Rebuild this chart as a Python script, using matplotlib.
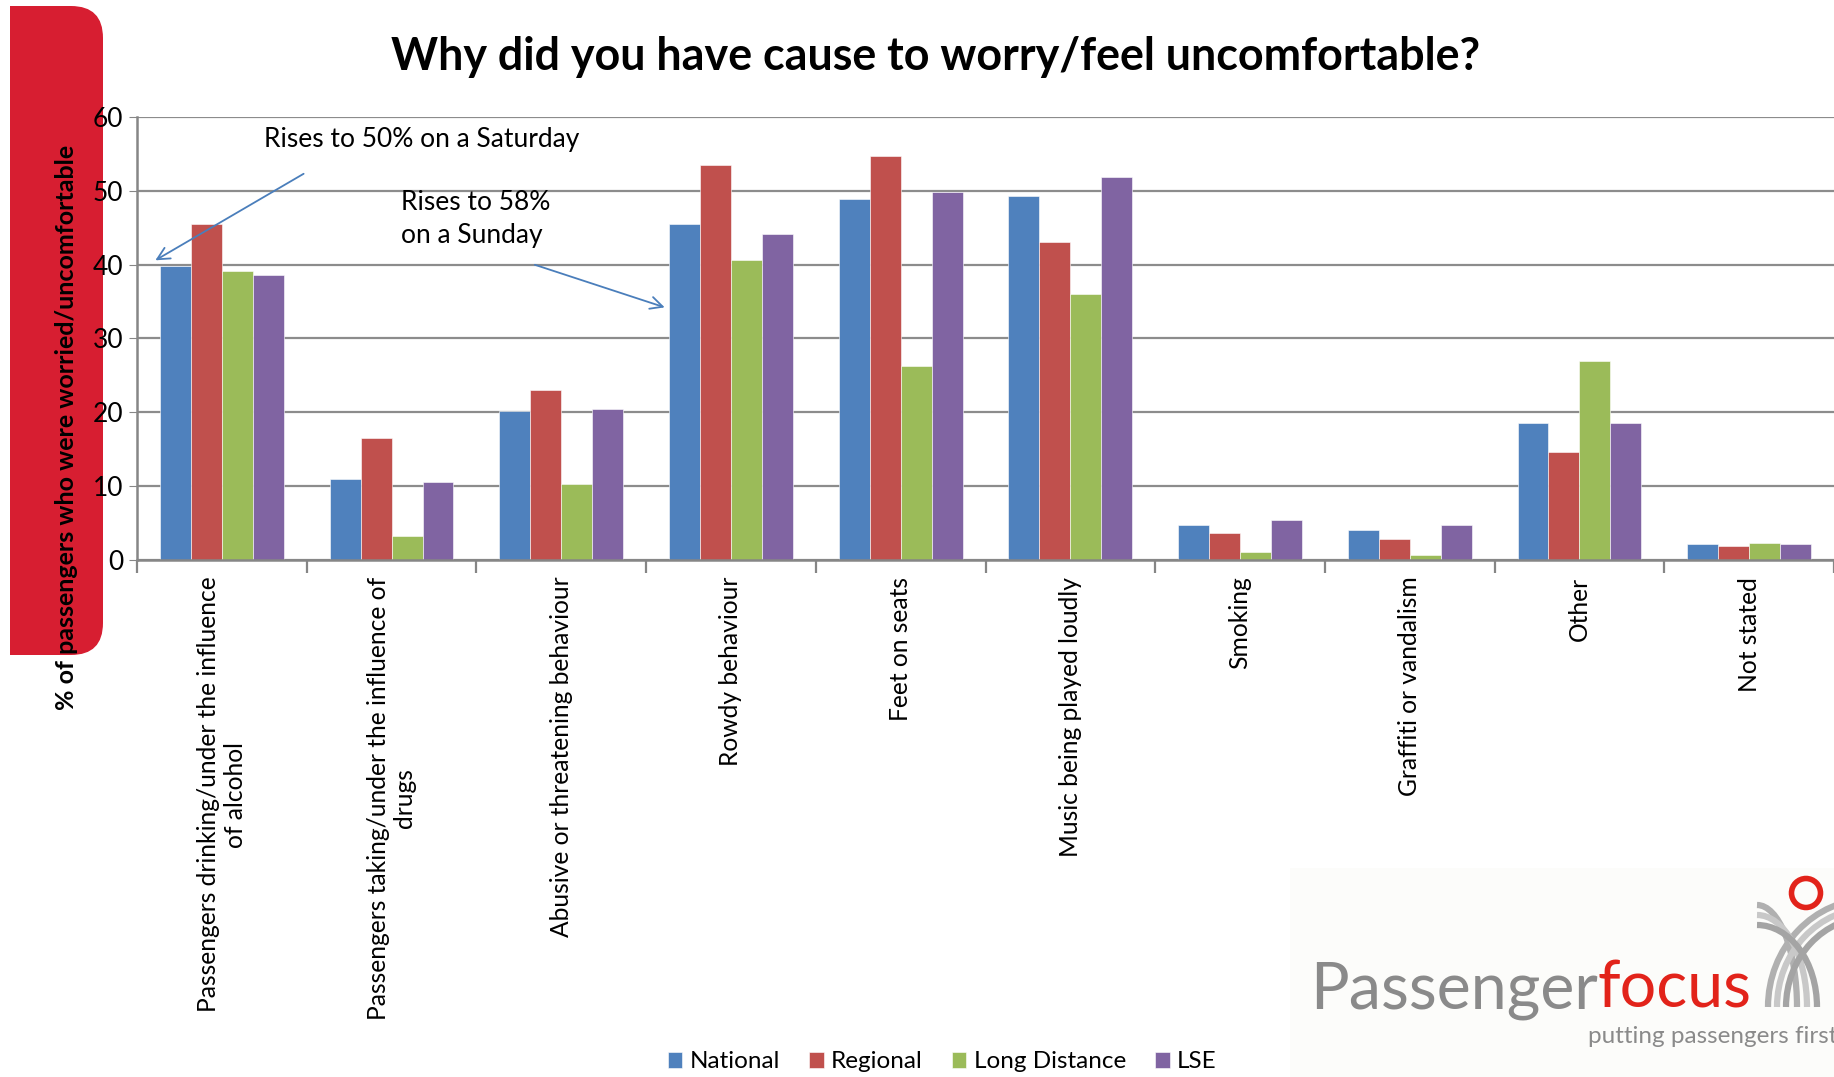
import numpy as np
import matplotlib
matplotlib.use("Agg")
import matplotlib.pyplot as plt
from matplotlib.patches import FancyBboxPatch, Rectangle, Circle, Arc

plt.rcParams["font.family"] = ["Lato", "DejaVu Sans"]

categories = [
    "Passengers drinking/under the influence\nof alcohol",
    "Passengers taking/under the influence of\ndrugs",
    "Abusive or threatening behaviour",
    "Rowdy behaviour",
    "Feet on seats",
    "Music being played loudly",
    "Smoking",
    "Graffiti or vandalism",
    "Other",
    "Not stated",
]
national = [39.8, 11.0, 20.2, 45.5, 48.9, 49.3, 4.8, 4.1, 18.5, 2.2]
regional = [45.5, 16.5, 23.0, 53.5, 54.7, 43.1, 3.7, 2.8, 14.6, 1.9]
long_distance = [39.1, 3.3, 10.3, 40.6, 26.3, 36.0, 1.1, 0.7, 26.9, 2.3]
lse = [38.6, 10.6, 20.5, 44.2, 49.9, 51.9, 5.4, 4.7, 18.6, 2.2]
series_names = ["National", "Regional", "Long Distance", "LSE"]
colors = ["#4F81BD", "#C0504D", "#9BBB59", "#8064A2"]
yticks = [0, 10, 20, 30, 40, 50, 60]

W, H = 1834, 1077
fig = plt.figure(figsize=(W / 100, H / 100), dpi=100)

# background layer in pixel coordinates: red tab + logo
bg = fig.add_axes([0, 0, 1, 1], zorder=0)
bg.set_xlim(0, W)
bg.set_ylim(H, 0)
bg.axis("off")
red = "#D71E31"
bg.add_patch(FancyBboxPatch((10, 6), 93, 649, boxstyle="round,pad=0,rounding_size=32",
                            fc=red, ec="none"))
bg.add_patch(Rectangle((10, 6), 40, 649, fc=red, ec="none"))

# logo
bg.add_patch(Rectangle((1290, 868), 560, 210, fc="#fcfcfa", ec="none"))
logo_red = "#e2231a"
t = bg.text(1310, 1008, "Passenger", fontsize=46.5, color="#8a8a8a",
            va="baseline", ha="left")
bb = t.get_window_extent(fig.canvas.get_renderer())
bg.text(bb.x1, 1008, "focus", fontsize=46.5, color=logo_red, va="baseline", ha="left")
bg.text(1588, 1043, "putting passengers first", fontsize=17.5, color="#8a8a8a",
        va="baseline", ha="left")
bg.add_patch(Circle((1806, 893), 14.5, fc="none", ec=logo_red, lw=4))
for k, c in enumerate(["#b0b0b0", "#c8c8c8", "#a4a4a4"]):
    bg.add_patch(Arc((1870, 1007), 2 * (102 - 9 * k), 2 * (108 - 9 * k),
                     theta1=180, theta2=270, color=c, lw=4.5))
    bg.add_patch(Arc((1757, 1007), 2 * (40 + 10 * k), 2 * (102 - 10 * k),
                     theta1=270, theta2=360, color=c, lw=4.5))

# main chart
ax = fig.add_axes([137 / W, 1 - 560 / H, (W - 137) / W, 443 / H], zorder=1)
ax.patch.set_alpha(0)
x = np.arange(len(categories))
bw = 0.1825
for i, (vals, name, col) in enumerate(zip([national, regional, long_distance, lse],
                                          series_names, colors)):
    ax.bar(x + (i - 1.5) * bw, vals, width=bw, color=col, label=name,
           edgecolor="white", linewidth=0.4, zorder=2)

ax.set_xlim(-0.5, len(categories) - 0.5)
ax.set_ylim(0, 60)
ax.set_yticks(yticks)
ax.tick_params(axis="y", labelsize=19, length=6, color="#868686", pad=4)
ax.yaxis.grid(True, color="#8c8c8c", linewidth=1.6, zorder=0)
ax.set_axisbelow(True)
ax.set_xticks(x, categories, rotation=90, ha="center", va="top", multialignment="center")
ax.tick_params(axis="x", length=0, labelsize=17.7, pad=12)
ax.set_xticks(np.arange(-0.5, len(categories)), minor=True)
ax.tick_params(axis="x", which="minor", length=9, width=1.6, color="#868686", direction="out")
for s in ["top", "right"]:
    ax.spines[s].set_visible(False)
for s in ["left", "bottom"]:
    ax.spines[s].set_color("#868686")
    ax.spines[s].set_linewidth(1.8)

arrow = dict(arrowstyle="->", color="#4a7ebb", lw=1.3, mutation_scale=22)
ax.annotate("", xy=(-0.406, 40.4), xytext=(0.496, 52.5), arrowprops=arrow)
ax.annotate("", xy=(2.625, 34.1), xytext=(1.829, 40.1), arrowprops=arrow)
ax.text(0.249, 57.0, "Rises to 50% on a Saturday", fontsize=19, va="center", ha="left")
ax.text(1.057, 46.2, "Rises to 58%\non a Sunday", fontsize=19, va="center", ha="left",
        linespacing=1.4)

fig.text(936 / W, 1 - 57 / H, "Why did you have cause to worry/feel uncomfortable?",
         fontsize=32.3, fontweight="bold", ha="center", va="center")
fig.text(67 / W, 1 - 427 / H, "% of passengers who were worried/uncomfortable",
         fontsize=18, fontweight="bold", rotation=90, ha="center", va="center")

fig.legend(loc="center", bbox_to_anchor=(942 / W, 1 - 1062 / H), ncol=4, frameon=False,
           fontsize=17.5, handlelength=0.6, handleheight=0.6, handletextpad=0.3,
           columnspacing=1.2)

fig.savefig("out.png", dpi=100)
